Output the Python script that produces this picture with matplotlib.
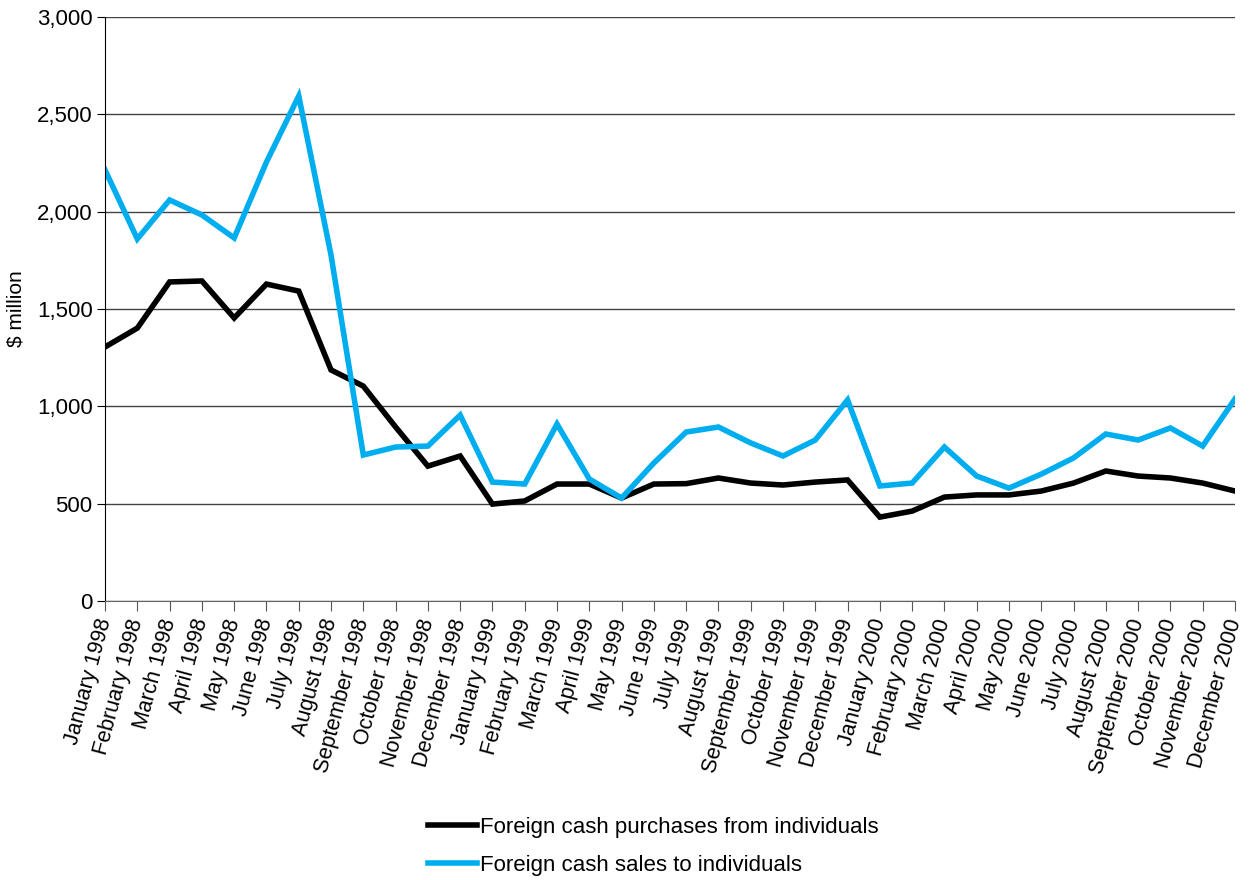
import numpy as np
import matplotlib
matplotlib.use("Agg")
import matplotlib.pyplot as plt

plt.rcParams['font.family'] = ['Liberation Sans', 'DejaVu Sans']

months = ["January", "February", "March", "April", "May", "June", "July",
          "August", "September", "October", "November", "December"]
years = [1998, 1999, 2000]
labels = [f"{m} {y}" for y in years for m in months]

purchases = [1305, 1402, 1639, 1644, 1454, 1628, 1592, 1187, 1104, 894, 693, 745,
             498, 514, 601, 601, 529, 601, 603, 632, 606, 596, 611, 622,
             431, 462, 534, 545, 545, 565, 606, 668, 642, 632, 606, 565]
sales = [2214, 1860, 2060, 1983, 1865, 2255, 2594, 1777, 750, 791, 796, 955,
         611, 601, 909, 627, 529, 709, 868, 894, 812, 745, 827, 1033,
         591, 606, 791, 642, 580, 652, 735, 858, 827, 889, 796, 1038]

fig = plt.figure(figsize=(12.52, 8.8), dpi=100)
ax = fig.add_axes([0.0839, 0.317, 0.9025, 0.6637])

x = np.arange(len(labels))
ax.plot(x, purchases, color='black', lw=4, solid_joinstyle='miter',
        label='Foreign cash purchases from individuals')
ax.plot(x, sales, color='#00aeef', lw=4, solid_joinstyle='miter',
        label='Foreign cash sales to individuals')

ax.set_xlim(0, len(labels) - 1)
ax.set_ylim(0, 3000)
ax.set_yticks(np.arange(0, 3001, 500))
ax.set_yticklabels([f"{v:,}" for v in range(0, 3001, 500)], fontsize=16)
ax.set_xticks(x)
ax.set_xticklabels(labels, rotation=75, ha='right', va='center',
                   rotation_mode='anchor', fontsize=15.5)
ax.tick_params(axis='x', length=7, color='#555555', pad=6)
ax.tick_params(axis='y', length=6, color='black', pad=3)
ax.yaxis.grid(True, color='#444444', lw=1)
ax.set_axisbelow(True)
for s in ['top', 'right']:
    ax.spines[s].set_visible(False)
ax.spines['bottom'].set_color('#666666')
ax.spines['left'].set_color('black')
ax.set_ylabel('$ million', fontsize=15, labelpad=8)

fig.legend(loc='upper left', bbox_to_anchor=(0.333, 0.084), frameon=False,
           fontsize=16, handlelength=2.2, handletextpad=0.15, labelspacing=0.75,
           borderpad=0)

fig.savefig('out.png', dpi=100)
